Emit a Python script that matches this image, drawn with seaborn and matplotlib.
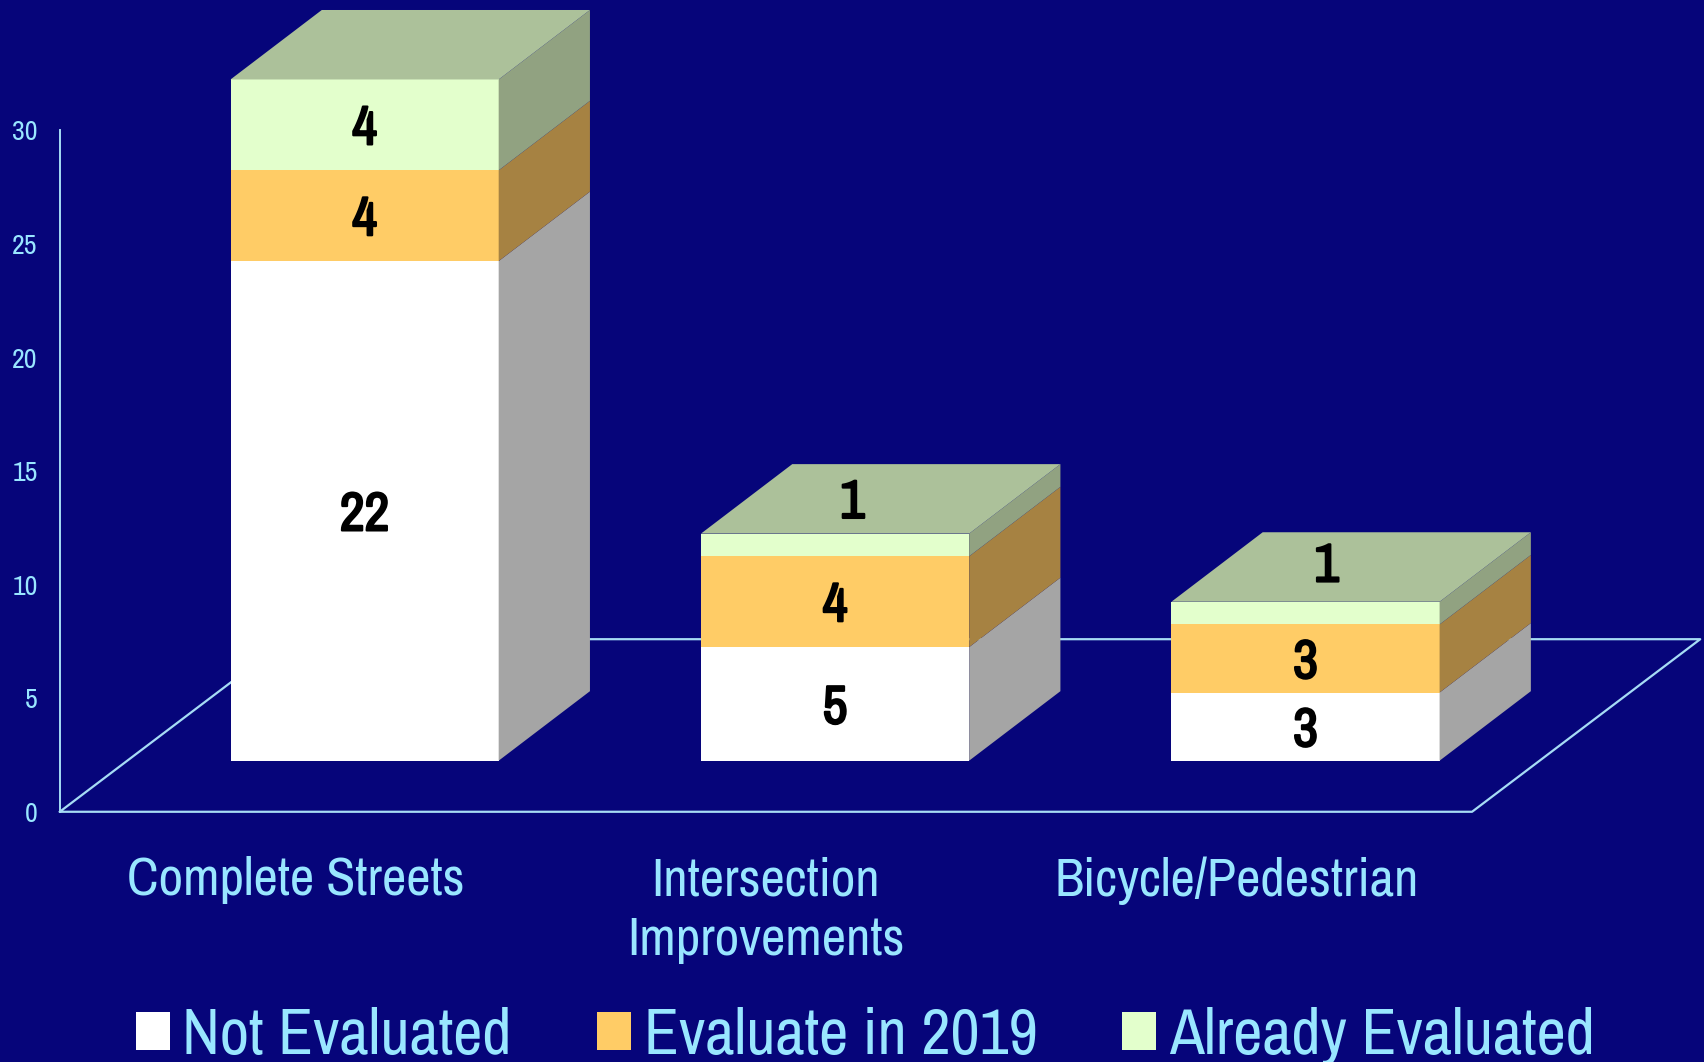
import matplotlib
matplotlib.use("Agg")
import matplotlib.pyplot as plt
import matplotlib.patheffects as pe
from matplotlib.patches import Patch
import seaborn as sns

categories = ["Complete Streets", "Intersection\nImprovements", "Bicycle/Pedestrian"]
series_names = ["Not Evaluated", "Evaluate in 2019", "Already Evaluated"]
not_evaluated = [22, 5, 3]
evaluate_2019 = [4, 4, 3]
already_evaluated = [4, 1, 1]
y_ticks = [0, 5, 10, 15, 20, 25, 30]

BG = "#06057A"
TXT = "#99E6FF"
LINE = "#A6DCF5"
FRONT = ["#FFFFFF", "#FFCC66", "#E3FFCC"]
SIDE = ["#A5A5A5", "#A68242", "#91A281"]
TOP = "#ACC19A"
NARROW = ["Archivo Narrow", "Roboto Condensed", "Liberation Sans"]

sns.set_theme(style="white")
plt.rcParams["font.family"] = NARROW

fig = plt.figure(figsize=(17.04, 10.62), dpi=100, facecolor=BG)
ax = fig.add_axes([0, 0, 1, 1])
ax.set_axis_off()

BAR_W = 0.57
DX, DY = 0.194, 3.06          # bar depth
FX0, FX1, FY0 = -0.648, 2.354, -2.25  # floor front edge
FDX, FDY = 0.485, 7.6         # floor depth

# floor outline
ax.plot([FX0, FX1, FX1 + FDX, FX0 + FDX, FX0],
        [FY0, FY0, FY0 + FDY, FY0 + FDY, FY0], color=LINE, lw=1.6, zorder=1)

# front faces: cumulative bars, tallest first
series = [not_evaluated, evaluate_2019, already_evaluated]
cum, tot = [], [0] * len(categories)
for s in series:
    tot = [a + b for a, b in zip(tot, s)]
    cum.append(tot)
for k in (2, 1, 0):
    sns.barplot(x=categories, y=cum[k], color=FRONT[k], saturation=1, width=BAR_W,
                linewidth=0, ax=ax, zorder=3)

# side and top faces of each bar
for i in range(len(categories)):
    x1 = i + BAR_W / 2
    x0 = i - BAR_W / 2
    low = 0
    for k in range(3):
        high = cum[k][i]
        ax.fill([x1, x1 + DX, x1 + DX, x1], [low, low + DY, high + DY, high],
                color=SIDE[k], lw=0, zorder=3)
        low = high
    ax.fill([x0, x1, x1 + DX, x0 + DX], [low, low, low + DY, low + DY],
            color=TOP, lw=0, zorder=3)

# value labels (thin top segments have their label lifted onto the top face)
lift = {1: (0.037, 2.05), 2: (0.045, 2.25)}
bold = [pe.withStroke(linewidth=1.6, foreground="black")]
for i in range(len(categories)):
    low = 0
    for k in range(3):
        v = series[k][i]
        dx, dy = lift[i] if v == 1 else (0.0, 0.0)
        ax.text(i + dx, low + v / 2 + dy, str(v), ha="center", va="center_baseline",
                fontsize=39, color="black", zorder=5, path_effects=bold)
        low += v

# category labels
for i, c in enumerate(categories):
    ax.text(i - 0.147, -4.2, c, ha="center", va="top", fontsize=38.4, color=TXT,
            linespacing=1.3, zorder=5)

ax.set_xlim(-0.775, 2.847)
ax.set_ylim(-13.27, 33.5)
ax.set_xlabel("")
ax.set_ylabel("")

# value axis on the chart's back wall
wall = fig.add_axes([55 / 1568, (977 - 747) / 977, 0.01, 627 / 977])
wall.patch.set_alpha(0)
wall.set_ylim(0, 30)
wall.set_yticks(y_ticks)
wall.set_xticks([])
for sp in ("top", "right", "bottom"):
    wall.spines[sp].set_visible(False)
wall.spines["left"].set_color(LINE)
wall.spines["left"].set_linewidth(1.4)
wall.tick_params(axis="y", length=0, pad=16, labelsize=20, labelcolor=TXT)

# legend
handles = [Patch(facecolor=c, edgecolor="none") for c in FRONT]
fig.legend(handles, series_names, ncol=3, loc="lower left",
           bbox_to_anchor=(125 / 1568, -0.003), frameon=False, fontsize=46,
           labelcolor=TXT, borderpad=0, borderaxespad=0, handlelength=0.53,
           handleheight=0.53, handletextpad=0.2, columnspacing=1.33)

fig.savefig("out.png", dpi=100, facecolor=BG)
